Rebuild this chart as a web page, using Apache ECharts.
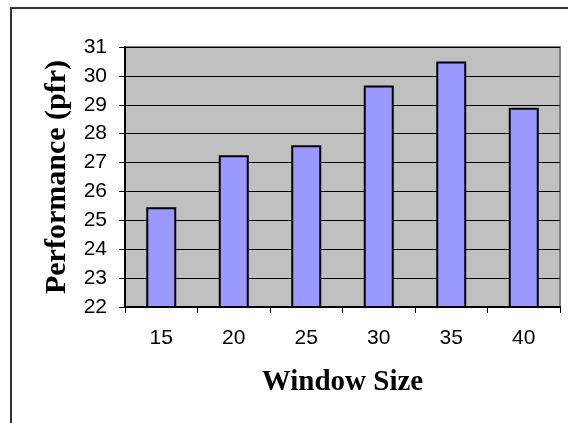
<!DOCTYPE html>
<html>
<head>
<meta charset="utf-8">
<script src="https://cdn.jsdelivr.net/npm/echarts@6/dist/echarts.min.js"></script>
<style>
  html, body { margin: 0; padding: 0; background: #fff; }
  #chart { width: 568px; height: 423px; }
</style>
</head>
<body>
<div id="chart"></div>
<script>
// window sizes on the x axis
const windowSizes = ['15', '20', '25', '30', '35', '40'];
// performance values (pfr)
const performance = [25.45, 27.25, 27.6, 29.67, 30.5, 28.9];
const yTicks = [22, 23, 24, 25, 26, 27, 28, 29, 30, 31];

const myChart = echarts.init(document.getElementById('chart'));

myChart.setOption({
    animation: false,
    backgroundColor: '#fff',
    graphic: [{
        // outer frame, only left and top visible in the picture
        type: 'rect',
        shape: { x: 11, y: 8, width: 700, height: 600 },
        style: { fill: 'none', stroke: '#333', lineWidth: 2 },
        z: 100
    }],
    grid: {
        left: 125, top: 47, right: 8, bottom: 116,
        show: true,
        backgroundColor: '#C0C0C0',
        borderColor: '#808080',
        borderWidth: 2
    },
    xAxis: {
        type: 'category',
        data: windowSizes,
        name: 'Window Size',
        nameLocation: 'middle',
        nameGap: 61,
        nameTextStyle: {
            fontFamily: 'Liberation Serif',
            fontWeight: 'bold',
            fontSize: 29,
            color: '#000'
        },
        axisLine: { lineStyle: { color: '#000', width: 2 } },
        axisTick: { show: true, length: 6, lineStyle: { color: '#000' } },
        axisLabel: {
            margin: 21,
            fontFamily: 'Liberation Sans',
            fontSize: 21,
            color: '#000'
        }
    },
    yAxis: {
        type: 'value',
        min: yTicks[0],
        max: yTicks[yTicks.length - 1],
        interval: 1,
        name: 'Performance (pfr)',
        nameLocation: 'middle',
        nameGap: 51,
        nameTextStyle: {
            fontFamily: 'Liberation Serif',
            fontWeight: 'bold',
            fontSize: 30,
            color: '#000'
        },
        axisLine: { show: true, lineStyle: { color: '#000', width: 2 } },
        axisTick: { show: true, length: 6, lineStyle: { color: '#000' } },
        axisLabel: {
            margin: 18,
            fontFamily: 'Liberation Sans',
            fontSize: 21,
            color: '#000'
        },
        splitLine: { show: true, lineStyle: { color: '#000', width: 1 } }
    },
    series: [{
        type: 'bar',
        data: performance,
        barWidth: 30,
        itemStyle: {
            color: '#9999FF',
            borderColor: '#000',
            borderWidth: 2
        }
    }]
});
</script>
</body>
</html>
